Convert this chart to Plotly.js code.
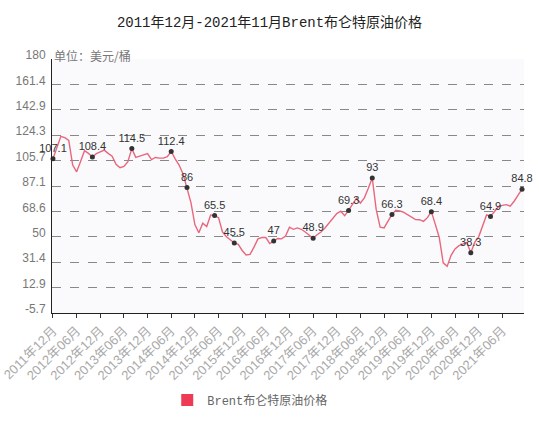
<!DOCTYPE html>
<html>
<head>
<meta charset="utf-8">
<script src="https://cdn.plot.ly/plotly-3.0.1.min.js"></script>
<style>
  html, body { margin: 0; padding: 0; background: #fff; }
  #chart { width: 539px; height: 426px; }
</style>
</head>
<body>
<div id="chart"></div>
<script>
// monthly Brent price, 2011-12 .. 2021-11
var prices = [
  107.1, 116, 123.5, 122.5, 120.5, 102.5, 97.5, 105, 113, 111,
  108.4, 110.8, 112, 113.4, 111, 109, 103, 100.5, 101.5, 105,
  114.5, 108.1, 109, 110, 110.8, 106.5, 108, 107.5, 107.5, 108.6,
  112.4, 107, 102.5, 96, 86, 75, 59, 53, 60, 57.5,
  66, 65.5, 64, 53.5, 50, 47.5, 45.5, 44.5, 40, 36.7,
  37.2, 42.5, 48.5, 49.5, 49.5, 45, 47, 48.8, 48.5, 50.5,
  57, 55.5, 56.5, 55.5, 53.5, 51, 48.9, 51.5, 53.5, 56.5,
  60, 63.5, 67, 68.7, 65.5, 69.3, 74, 78.3, 74.7, 78.5,
  85.5, 93, 70, 57, 56.5, 61.5, 66.3, 69.5, 69, 67.8,
  66, 64, 62.6, 62.5, 61.3, 64, 68.4, 59.1, 49.5, 31,
  28.4, 36.5, 41.1, 43.5, 45, 45.9, 38.3, 45.9, 50, 58,
  66, 64.9, 68.5, 72, 73, 73.5, 72.4, 76, 80.5, 84.8
];

// points that carry a marker and a value label
var labelIdx = [0, 10, 20, 30, 34, 41, 46, 56, 66, 75, 81, 86, 96, 106, 111, 119];

var yTicks = [180, 161.4, 142.9, 124.3, 105.7, 87.1, 68.6, 50, 31.4, 12.9, -5.7];

var seriesName = "Brent布仑特原油价格";

// month categories
var months = [];
var yr = 2011, mo = 12;
for (var i = 0; i < prices.length; i++) {
  months.push(yr + "年" + (mo < 10 ? "0" + mo : mo) + "月");
  mo++;
  if (mo > 12) { mo = 1; yr++; }
}
var tickMonths = [];
for (var k = 0; k < months.length; k += 6) tickMonths.push(months[k]);

var lx = [], ly = [], lt = [];
labelIdx.forEach(function(j) {
  lx.push(months[j]);
  ly.push(prices[j]);
  lt.push(String(prices[j]));
});

var lineColor = "#e8677c";
var monoCjk = "Liberation Mono, Noto Sans CJK SC, monospace";

var traces = [
  {
    type: "scatter",
    mode: "lines",
    x: months,
    y: prices,
    line: { color: lineColor, width: 1.4 },
    showlegend: false,
    hoverinfo: "x+y"
  },
  {
    type: "scatter",
    mode: "markers+text",
    x: lx,
    y: ly,
    text: lt,
    textposition: "top center",
    textfont: { family: "Liberation Sans, Arial, sans-serif", size: 11, color: "#333" },
    marker: { color: "#333", size: 5 },
    cliponaxis: false,
    showlegend: false,
    hoverinfo: "skip"
  },
  {
    // legend swatch only
    type: "bar",
    x: [null],
    y: [null],
    name: seriesName,
    marker: { color: "#ee3a55" },
    showlegend: true
  }
];

var layout = {
  width: 539,
  height: 426,
  margin: { l: 52, r: 15, t: 59, b: 109 },
  paper_bgcolor: "#ffffff",
  plot_bgcolor: "#fafafd",
  font: { family: "Noto Sans CJK SC, Liberation Sans, sans-serif", color: "#666" },
  title: {
    text: "2011年12月-2021年11月Brent布仑特原油价格",
    font: { family: monoCjk, size: 14, color: "#222" },
    x: 0.5,
    xanchor: "center",
    y: 0.948,
    yanchor: "middle"
  },
  xaxis: {
    type: "category",
    range: [-0.25, 119.5],
    tickmode: "array",
    tickvals: tickMonths,
    ticktext: tickMonths,
    tickangle: -45,
    ticks: "outside",
    ticklen: 4,
    tickcolor: "#333",
    tickfont: { family: "Liberation Sans, Noto Sans CJK SC, sans-serif", size: 13, color: "#aaa" },
    showgrid: false,
    showline: true,
    linecolor: "#222",
    linewidth: 1,
    zeroline: false,
    fixedrange: true
  },
  yaxis: {
    range: [-5.7, 180],
    tickmode: "array",
    tickvals: yTicks,
    ticktext: yTicks.map(String),
    ticklabelshift: -4,
    ticklabelstandoff: 3,
    tickfont: { family: "Liberation Sans, Arial, sans-serif", size: 12, color: "#777" },
    showgrid: true,
    gridcolor: "#888",
    griddash: "dash",
    gridwidth: 1,
    showline: true,
    linecolor: "#222",
    linewidth: 1,
    zeroline: false,
    fixedrange: true
  },
  legend: {
    orientation: "h",
    x: 0.42,
    xanchor: "center",
    y: -0.343,
    yanchor: "middle",
    font: { family: monoCjk, size: 12, color: "#666" }
  },
  annotations: [
    {
      xref: "paper", yref: "y",
      x: 0, y: 180,
      xanchor: "left", yanchor: "middle",
      yshift: 4,
      showarrow: false,
      text: "单位：美元/桶",
      font: { family: "Noto Sans CJK SC, sans-serif", size: 12, color: "#777" }
    }
  ],
  showlegend: true
};

Plotly.newPlot("chart", traces, layout, { displayModeBar: false, staticPlot: true });
</script>
</body>
</html>
